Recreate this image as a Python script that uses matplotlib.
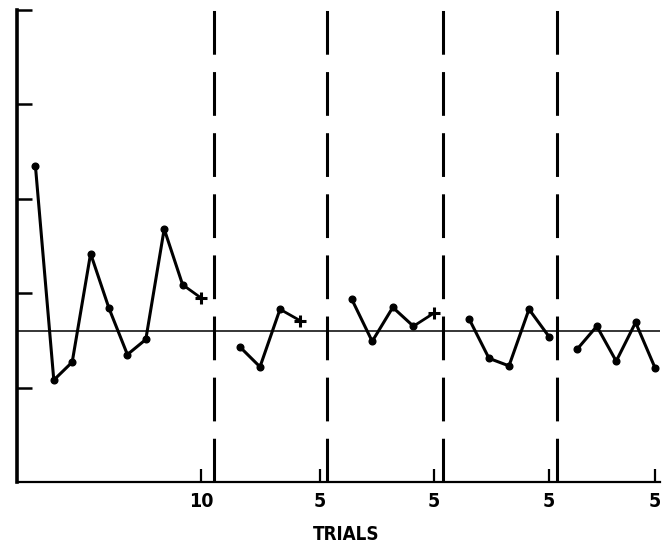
import numpy as np
import matplotlib
matplotlib.use('Agg')
import matplotlib.pyplot as plt

plt.rcParams['lines.scale_dashes'] = False

# blocks of trials: (block start, trial step, trial numbers, values, "+" trial, "+" value)
block_start = [0.0, 10.15, 15.7, 21.6, 27.05]
block_step = [0.92, 1.0, 1.03, 1.0, 0.97]
block_trials = [
    [1, 2, 3, 4, 5, 6, 7, 8, 9],
    [1, 2, 3],
    [1, 2, 3, 4],
    [1, 2, 3, 4, 5],
    [1, 2, 3, 4, 5],
]
block_values = [
    [3.35, 1.08, 1.27, 2.42, 1.84, 1.35, 1.51, 2.68, 2.09],
    [1.43, 1.22, 1.83],
    [1.94, 1.49, 1.85, 1.65],
    [1.73, 1.31, 1.23, 1.83, 1.54],
    [1.41, 1.65, 1.28, 1.69, 1.21],
]
plus_trial = [10, 4, 5, None, None]
plus_value = [1.95, 1.71, 1.79, None, None]
last_trial = [10, 5, 5, 5, 5]
tick_labels = ['10', '5', '5', '5', '5']
separators = [9.85, 15.5, 21.3, 27.0]
ref_level = 1.6

fig = plt.figure(figsize=(6.72, 5.51), dpi=100)
ax = fig.add_axes([17 / 672, 69 / 551, 643 / 672, 472 / 551])

ax.axhline(ref_level, color='black', lw=1.1, zorder=1)

for x in separators:
    ax.plot([x, x], [0, 5], color='black', lw=2.2, dashes=(31.5, 12.5),
            solid_capstyle='butt', dash_capstyle='butt', zorder=2)

for i in range(len(block_start)):
    xs = [block_start[i] + block_step[i] * t for t in block_trials[i]]
    ys = list(block_values[i])
    ax.plot(xs, ys, color='black', lw=2.2, marker='o', ms=4.8, zorder=3)
    if plus_trial[i] is not None:
        px = block_start[i] + block_step[i] * plus_trial[i]
        ax.plot([xs[-1], px], [ys[-1], plus_value[i]], color='black', lw=2.0, zorder=3)
        ax.plot(px, plus_value[i], marker='+', color='black', ms=8, mew=2.2, zorder=4)

tick_pos = [block_start[i] + block_step[i] * last_trial[i] for i in range(len(block_start))]
ax.set_xticks(tick_pos)
ax.set_xticklabels(tick_labels, fontsize=14, fontweight='bold', fontstretch='condensed')
ax.tick_params(axis='x', direction='in', length=9.5, width=1.6, pad=7)
ax.set_yticks([1, 2, 3, 4, 5])
ax.set_yticklabels([])
ax.tick_params(axis='y', direction='in', length=11, width=1.8)

ax.set_xlim(0, 32.15)
ax.set_ylim(0, 5)
ax.spines['top'].set_visible(False)
ax.spines['right'].set_visible(False)
ax.spines['left'].set_linewidth(2.6)
ax.spines['bottom'].set_linewidth(1.6)

fig.text(346 / 672, 1 - 534 / 551, 'TRIALS', ha='center', va='center',
         fontsize=13.5, fontweight='bold', fontstretch='condensed')

fig.savefig('out.png', dpi=100)
